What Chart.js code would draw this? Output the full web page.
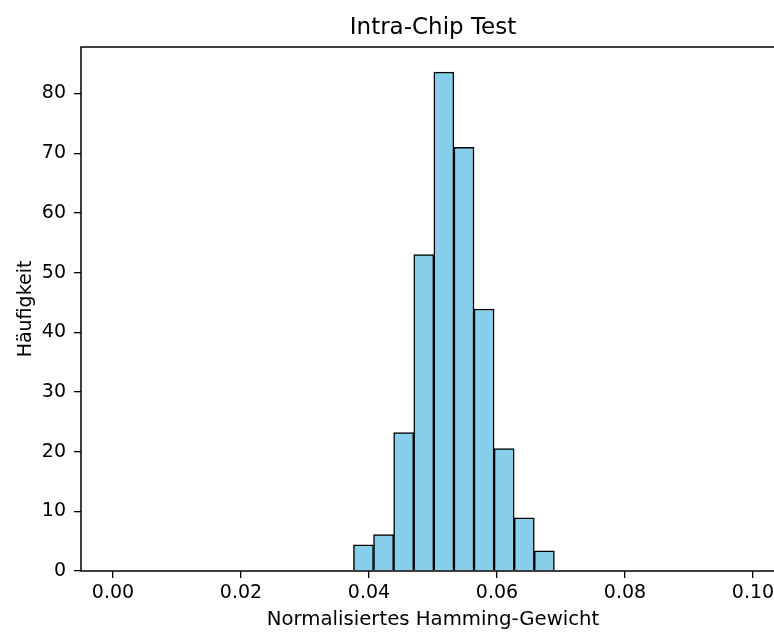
<!DOCTYPE html>
<html>
<head>
<meta charset="utf-8">
<script src="https://cdn.jsdelivr.net/npm/chart.js@4.4.0/dist/chart.umd.min.js"></script>
<style>
  html, body { margin: 0; padding: 0; overflow: hidden; background: #fff; }
  #wrap { width: 774px; height: 632px; overflow: hidden; position: relative; }
  #myChart { position: absolute; left: 0; top: 0; }
</style>
</head>
<body>
<div id="wrap"><canvas id="myChart" width="800" height="632"></canvas></div>
<script>
// histogram bins (normalised hamming weight) and density values
var binEdges = [0.03757, 0.04071, 0.04385, 0.04699, 0.05013, 0.05327, 0.05641, 0.05955, 0.06269, 0.06583, 0.06896];
var frequencies = [4.4, 6.1, 23.2, 53.0, 83.6, 71.0, 43.9, 20.5, 8.9, 3.4];
var xTicks = [0.00, 0.02, 0.04, 0.06, 0.08, 0.10];
var yTicks = [0, 10, 20, 30, 40, 50, 60, 70, 80];
var xRange = [-0.005, 0.105];
var yRange = [0, 87.8];
var chartTitle = 'Intra-Chip Test';
var xLabel = 'Normalisiertes Hamming-Gewicht';
var yLabel = 'Häufigkeit';

var points = [];
for (var i = 0; i < frequencies.length; i++) {
  points.push({ x: (binEdges[i] + binEdges[i + 1]) / 2, y: frequencies[i] });
}

Chart.defaults.font.family = 'DejaVu Sans';
Chart.defaults.color = '#000';

// title centred over the plot area, like matplotlib
const titlePlugin = {
  id: 'axTitle',
  afterDraw(chart) {
    const ctx = chart.ctx, a = chart.chartArea;
    ctx.save();
    ctx.font = '23px "DejaVu Sans"';
    ctx.fillStyle = '#000';
    ctx.textAlign = 'center';
    ctx.textBaseline = 'alphabetic';
    ctx.fillText(chartTitle, (a.left + a.right) / 2, 34);
    ctx.restore();
  }
};

// left, top and bottom spines (the right one lies outside the picture)
const framePlugin = {
  id: 'frame',
  afterDraw(chart) {
    const ctx = chart.ctx, a = chart.chartArea;
    ctx.save();
    ctx.strokeStyle = '#000';
    ctx.lineWidth = 1.5;
    ctx.beginPath();
    ctx.moveTo(chart.width, a.top);
    ctx.lineTo(a.left, a.top);
    ctx.lineTo(a.left, a.bottom);
    ctx.lineTo(chart.width, a.bottom);
    ctx.stroke();
    ctx.restore();
  }
};

const ctx = document.getElementById('myChart');
const myChart = new Chart(ctx, {
  type: 'bar',
  data: {
    datasets: [{
      label: 'Häufigkeit',
      data: points,
      backgroundColor: 'skyblue',
      borderColor: '#000',
      borderWidth: 1.5,
      barPercentage: 1.0,
      categoryPercentage: 1.0
    }]
  },
  options: {
    responsive: false,
    animation: false,
    devicePixelRatio: 1,
    layout: { padding: { top: 47, right: 15, left: 0, bottom: 0 } },
    plugins: {
      legend: { display: false },
      title: { display: false },
      tooltip: { enabled: false }
    },
    scales: {
      x: {
        type: 'linear',
        min: xRange[0],
        max: xRange[1],
        offset: false,
        grid: { display: true, offset: false, drawOnChartArea: false, drawTicks: true, tickLength: 7, lineWidth: 1.3, tickColor: '#000' },
        border: { display: false },
        ticks: {
          font: { size: 19 },
          padding: 4,
          maxRotation: 0,
          callback: function(v) { return v.toFixed(2); }
        },
        afterBuildTicks: function(scale) {
          scale.ticks = xTicks.map(function(v) { return { value: v }; });
        },
        afterFit: function(scale) { scale.height = 61; },
        title: { display: true, text: xLabel, font: { size: 19.7 }, padding: { top: 0, bottom: 0 } }
      },
      y: {
        min: yRange[0],
        max: yRange[1],
        grid: { display: true, drawOnChartArea: false, drawTicks: true, tickLength: 7, lineWidth: 1.3, tickColor: '#000' },
        border: { display: false },
        ticks: { font: { size: 19 }, padding: 8 },
        afterBuildTicks: function(scale) {
          scale.ticks = yTicks.map(function(v) { return { value: v }; });
        },
        afterFit: function(scale) { scale.width = 81; },
        title: { display: true, text: yLabel, font: { size: 19 }, padding: { top: 15, bottom: 0 } }
      }
    }
  },
  plugins: [titlePlugin, framePlugin]
});
</script>
</body>
</html>
